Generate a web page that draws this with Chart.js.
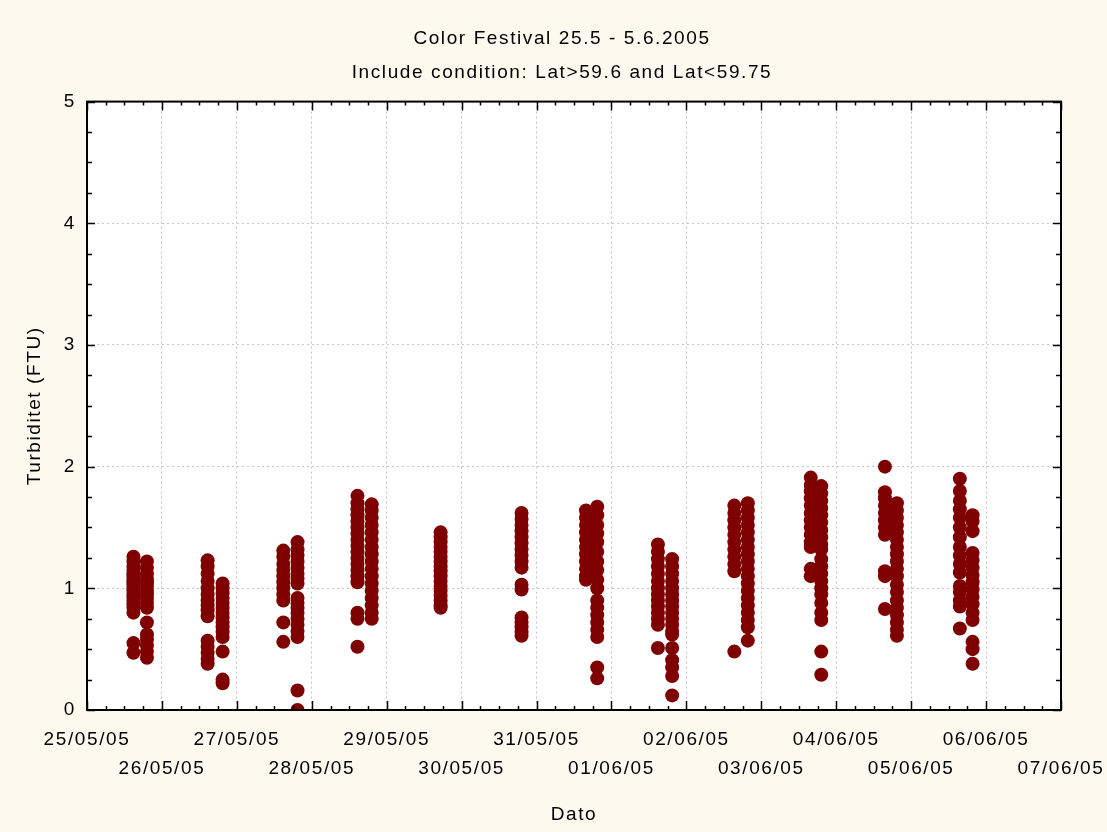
<!DOCTYPE html>
<html>
<head>
<meta charset="utf-8">
<title>Color Festival 25.5 - 5.6.2005</title>
<script src="https://cdn.jsdelivr.net/npm/chart.js@4/dist/chart.umd.min.js"></script>
<style>
    html, body { margin: 0; padding: 0; background: #fdf9ef; }
    canvas { display: block; }
</style>
</head>
<body>
<canvas id="turbChart" width="1107" height="832"></canvas>
<script>
// ====================== DATA ======================
// x = days since 25/05/05 00:00, one entry per ferry crossing column
const dateLabels = ['25/05/05', '26/05/05', '27/05/05', '28/05/05', '29/05/05', '30/05/05', '31/05/05',
                    '01/06/05', '02/06/05', '03/06/05', '04/06/05', '05/06/05', '06/06/05', '07/06/05'];

const yTicks = [0, 1, 2, 3, 4, 5];

const columnDays = [0.62, 0.80, 1.61, 1.81, 2.62, 2.81, 3.61, 3.80, 4.72, 5.80, 6.66, 6.81,
                    7.62, 7.81, 8.64, 8.82, 9.66, 9.80, 10.65, 10.81, 11.65, 11.82];

// Turbiditet (FTU) per column
const columnValues = [
    [1.26, 1.22, 1.18, 1.15, 1.12, 1.10, 1.07, 1.05, 1.03, 1.00, 0.98, 0.95, 0.93, 0.90, 0.87, 0.84, 0.80, 0.55, 0.47],
    [1.22, 1.17, 1.12, 1.08, 1.05, 1.02, 0.98, 0.95, 0.92, 0.88, 0.84, 0.72, 0.62, 0.58, 0.53, 0.48, 0.43],
    [1.23, 1.18, 1.12, 1.06, 1.00, 0.95, 0.90, 0.86, 0.82, 0.77, 0.57, 0.52, 0.47, 0.42, 0.38],
    [1.04, 1.00, 0.96, 0.92, 0.88, 0.84, 0.80, 0.76, 0.72, 0.68, 0.64, 0.60, 0.48, 0.25, 0.22],
    [1.31, 1.26, 1.20, 1.15, 1.10, 1.05, 1.00, 0.95, 0.90, 0.72, 0.56],
    [1.38, 1.32, 1.27, 1.22, 1.17, 1.12, 1.08, 1.04, 0.92, 0.88, 0.84, 0.80, 0.75, 0.70, 0.65, 0.60, 0.16, 0.00],
    [1.76, 1.70, 1.65, 1.60, 1.55, 1.50, 1.45, 1.40, 1.35, 1.30, 1.25, 1.20, 1.15, 1.10, 1.05, 0.80, 0.75, 0.52],
    [1.69, 1.64, 1.58, 1.52, 1.46, 1.40, 1.34, 1.28, 1.22, 1.16, 1.10, 1.04, 0.98, 0.92, 0.86, 0.80, 0.75],
    [1.46, 1.42, 1.38, 1.34, 1.30, 1.26, 1.22, 1.18, 1.14, 1.10, 1.06, 1.02, 0.98, 0.94, 0.90, 0.86, 0.84],
    [1.62, 1.57, 1.52, 1.47, 1.42, 1.37, 1.32, 1.27, 1.22, 1.17, 1.03, 0.99, 0.76, 0.72, 0.68, 0.64, 0.61],
    [1.64, 1.58, 1.52, 1.46, 1.40, 1.34, 1.28, 1.22, 1.16, 1.10, 1.07],
    [1.67, 1.60, 1.52, 1.45, 1.38, 1.30, 1.22, 1.15, 1.07, 1.00, 0.90, 0.84, 0.78, 0.72, 0.66, 0.60, 0.35, 0.26],
    [1.36, 1.30, 1.24, 1.18, 1.12, 1.06, 1.00, 0.95, 0.90, 0.85, 0.80, 0.75, 0.70, 0.51],
    [1.24, 1.18, 1.12, 1.06, 1.00, 0.95, 0.90, 0.85, 0.80, 0.75, 0.70, 0.65, 0.62, 0.51, 0.41, 0.35, 0.28, 0.12],
    [1.68, 1.62, 1.56, 1.50, 1.44, 1.38, 1.32, 1.26, 1.20, 1.14, 0.48],
    [1.70, 1.64, 1.58, 1.52, 1.46, 1.40, 1.34, 1.28, 1.22, 1.16, 1.10, 1.04, 0.98, 0.92, 0.86, 0.80, 0.74, 0.68, 0.57],
    [1.91, 1.85, 1.80, 1.74, 1.68, 1.62, 1.56, 1.50, 1.44, 1.38, 1.34, 1.16, 1.10],
    [1.84, 1.78, 1.72, 1.66, 1.60, 1.54, 1.48, 1.42, 1.36, 1.32, 1.24, 1.18, 1.12, 1.06, 1.00, 0.95, 0.88, 0.80, 0.74, 0.48, 0.29],
    [2.00, 1.79, 1.74, 1.68, 1.62, 1.56, 1.50, 1.44, 1.14, 1.10, 0.83],
    [1.70, 1.64, 1.58, 1.52, 1.46, 1.40, 1.34, 1.28, 1.22, 1.16, 1.10, 1.03, 0.97, 0.90, 0.84, 0.78, 0.72, 0.66, 0.61],
    [1.90, 1.80, 1.72, 1.65, 1.58, 1.50, 1.42, 1.34, 1.27, 1.20, 1.13, 1.02, 0.97, 0.90, 0.85, 0.67],
    [1.60, 1.55, 1.47, 1.29, 1.23, 1.17, 1.11, 1.05, 0.99, 0.93, 0.87, 0.80, 0.74, 0.56, 0.50, 0.38]
];

const points = columnDays.flatMap((day, i) => columnValues[i].map(v => ({ x: day, y: v })));

// ====================== STYLE ======================
const FONT = { family: '"Liberation Sans", Arial, sans-serif', size: 19 };
const LETTER_SPACING = '1.6px';
const TITLE_CENTER_X = 562;
const BG_OUTER = '#fdf9ef';
const MARKER = '#7f0000';

// wide lettering like the original export + frame with inward ticks
const framePlugin = {
    id: 'frame',
    beforeLayout(chart) {
        chart.ctx.letterSpacing = LETTER_SPACING;
    },
    afterLayout(chart) {
        // title + subtitle sit a bit right of the canvas centre in the original
        chart.boxes
            .filter(b => !(b instanceof Chart.Scale) && b.position === 'top')
            .forEach(b => { b.left = 2 * TITLE_CENTER_X - b.right; });
    },
    beforeDraw(chart) {
        const { ctx, chartArea: a } = chart;
        ctx.letterSpacing = LETTER_SPACING;
        ctx.save();
        ctx.fillStyle = BG_OUTER;
        ctx.fillRect(0, 0, chart.width, chart.height);
        ctx.fillStyle = '#ffffff';
        ctx.fillRect(a.left, a.top, a.right - a.left, a.bottom - a.top);
        ctx.restore();
    },
    afterDraw(chart) {
        const { ctx, chartArea: a, scales: { x, y } } = chart;
        ctx.save();
        ctx.strokeStyle = '#000';
        ctx.lineWidth = 1.5;
        ctx.beginPath();
        // x ticks, 4 per day, on bottom and top
        for (let d = x.min; d <= x.max + 1e-9; d += 0.25) {
            const px = Math.round(x.getPixelForValue(d)) + 0.5;
            const len = Math.abs(d - Math.round(d)) < 1e-6 ? 9 : 4;
            ctx.moveTo(px, a.bottom); ctx.lineTo(px, a.bottom - len);
            ctx.moveTo(px, a.top);    ctx.lineTo(px, a.top + len);
        }
        // y ticks, 4 per unit, on left and right
        for (let v = y.min; v <= y.max + 1e-9; v += 0.25) {
            const py = Math.round(y.getPixelForValue(v)) + 0.5;
            const len = Math.abs(v - Math.round(v)) < 1e-6 ? 8 : 5;
            ctx.moveTo(a.left, py);  ctx.lineTo(a.left + len, py);
            ctx.moveTo(a.right, py); ctx.lineTo(a.right - len, py);
        }
        ctx.stroke();
        ctx.lineWidth = 2;
        ctx.strokeRect(a.left, a.top, a.right - a.left, a.bottom - a.top);
        ctx.restore();
    }
};

// ====================== CHART ======================
const ctx = document.getElementById('turbChart').getContext('2d');

new Chart(ctx, {
    type: 'scatter',
    data: {
        datasets: [{
            data: points,
            backgroundColor: MARKER,
            borderColor: MARKER,
            borderWidth: 0,
            pointRadius: 7,
            clip: 0
        }]
    },
    options: {
        responsive: false,
        animation: false,
        events: [],
        layout: { padding: { left: 0, right: 46, top: 0, bottom: 0 } },
        plugins: {
            legend: { display: false },
            tooltip: { enabled: false },
            title: {
                display: true,
                text: 'Color Festival 25.5 - 5.6.2005',
                color: '#000',
                font: { ...FONT, weight: 'normal' },
                padding: { top: 27, bottom: 10 }
            },
            subtitle: {
                display: true,
                text: 'Include condition: Lat>59.6 and Lat<59.75',
                color: '#000',
                font: { ...FONT },
                padding: { top: 2, bottom: 17 }
            }
        },
        scales: {
            x: {
                type: 'linear',
                min: 0,
                max: dateLabels.length - 1,
                afterBuildTicks: scale => { scale.ticks = dateLabels.map((_, i) => ({ value: i })); },
                afterFit: scale => {
                    scale.height = 122;
                    scale.paddingLeft = 0;
                    scale.paddingRight = 0;
                },
                grid: { color: '#c4c4c4', drawTicks: false },
                border: { display: false, dash: [2, 3] },
                ticks: {
                    autoSkip: false,
                    maxRotation: 0,
                    padding: 16,
                    color: '#000',
                    font: { ...FONT, lineHeight: 1.5 },
                    callback: v => {
                        const i = Math.round(v);
                        return i % 2 === 0 ? [dateLabels[i], ''] : ['', dateLabels[i]];
                    }
                },
                title: {
                    display: true,
                    text: 'Dato',
                    color: '#000',
                    font: { ...FONT },
                    padding: { top: 0, bottom: 6 }
                }
            },
            y: {
                min: 0,
                max: 5,
                afterBuildTicks: scale => { scale.ticks = yTicks.map(v => ({ value: v })); },
                afterFit: scale => { scale.width = 87; },
                grid: { color: '#c4c4c4', drawTicks: false },
                border: { display: false, dash: [2, 3] },
                ticks: {
                    padding: 11,
                    color: '#000',
                    font: { ...FONT }
                },
                title: {
                    display: true,
                    text: 'Turbiditet (FTU)',
                    color: '#000',
                    font: { ...FONT },
                    padding: { top: 23, bottom: 0 }
                }
            }
        }
    },
    plugins: [framePlugin]
});
</script>
</body>
</html>
